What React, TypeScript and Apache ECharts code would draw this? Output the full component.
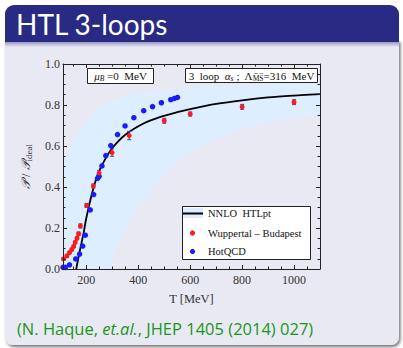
import React, { useEffect, useRef } from "react";
import * as echarts from "echarts";

// Wuppertal–Budapest lattice data (red)
const wbT = [112, 125, 135, 144, 151, 157, 164, 170, 177, 201, 227, 249, 299, 365, 500, 600, 800, 1000];
const wbP = [0.049, 0.064, 0.08, 0.095, 0.11, 0.13, 0.15, 0.172, 0.21, 0.31, 0.405, 0.468, 0.568, 0.651, 0.723, 0.756, 0.791, 0.814];
const wbErr = [0.006, 0.006, 0.006, 0.006, 0.006, 0.007, 0.007, 0.008, 0.01, 0.01, 0.01, 0.012, 0.018, 0.02, 0.012, 0.01, 0.012, 0.012];

// HotQCD lattice data (blue)
const hotT = [110, 119, 135, 159, 174, 186, 196, 215, 228, 243, 249, 260, 275, 294, 320, 349, 383, 421, 455, 489, 525, 539, 551];
const hotP = [0.008, 0.008, 0.02, 0.049, 0.073, 0.112, 0.165, 0.288, 0.363, 0.442, 0.452, 0.503, 0.553, 0.602, 0.656, 0.698, 0.738, 0.772, 0.792, 0.811, 0.826, 0.832, 0.837];

// NNLO HTLpt central curve
const htlT = [161, 170, 181, 190, 200, 222, 245, 270, 300, 350, 420, 480, 550, 600, 700, 800, 900, 1000, 1100];
const htlP = [0, 0.06, 0.126, 0.18, 0.25, 0.37, 0.465, 0.53, 0.59, 0.655, 0.71, 0.74, 0.765, 0.78, 0.805, 0.823, 0.837, 0.846, 0.853];

// HTLpt uncertainty band
const bandHighT = [110, 125, 150, 200, 250, 300, 400, 500, 600, 800, 1000, 1100];
const bandHigh = [0.5, 0.55, 0.63, 0.72, 0.79, 0.825, 0.86, 0.875, 0.885, 0.897, 0.905, 0.908];
const bandLowT = [290, 310, 340, 380, 430, 480, 530, 600, 640, 700, 755, 850, 950, 1100];
const bandLow = [0, 0.08, 0.17, 0.26, 0.35, 0.43, 0.5, 0.565, 0.6, 0.635, 0.663, 0.7, 0.725, 0.745];

// axis ticks
const xMajor = [200, 400, 600, 800, 1000];
const xMinor = [150, 250, 300, 350, 450, 500, 550, 650, 700, 750, 850, 900, 950, 1050, 1100];

const SERIF = "'Liberation Serif', 'DejaVu Serif', serif";
const BG = "#e9e9f3";
const AX = "#222";

export default function App() {
  const ref = useRef<HTMLDivElement>(null);
  useEffect(() => {
    document.body.style.margin = "0";
    const chart = echarts.init(ref.current!, null, { renderer: "svg" });

    const mkX = (pos: "top" | "bottom", vals: number[], len: number, labels: boolean, line: boolean) => ({
      type: "value",
      min: 110,
      max: 1100,
      position: pos,
      z: 10,
      axisLine: { show: line, onZero: false, lineStyle: { color: AX, width: 1 } },
      axisTick: { show: true, inside: true, length: len, customValues: vals, lineStyle: { color: AX, width: 1 } },
      axisLabel: labels
        ? {
            show: true,
            customValues: xMajor,
            fontFamily: SERIF,
            fontSize: 12,
            color: "#333",
            margin: 5,
            formatter: (v: number) => String(v),
          }
        : { show: false },
      splitLine: { show: false },
      ...(labels
        ? {
            name: "T [MeV]",
            nameLocation: "middle",
            nameGap: 23,
            nameTextStyle: { fontFamily: SERIF, fontSize: 12.5, color: "#333" },
          }
        : {}),
    });

    const mkY = (pos: "left" | "right", labels: boolean) => ({
      type: "value",
      min: 0,
      max: 1,
      interval: 0.2,
      position: pos,
      z: 10,
      axisLine: { show: true, onZero: false, lineStyle: { color: AX, width: 1 } },
      axisTick: { show: true, inside: true, length: 4, lineStyle: { color: AX } },
      minorTick: { show: true, splitNumber: 4, length: 2.5, lineStyle: { color: AX } },
      axisLabel: labels
        ? { show: true, fontFamily: SERIF, fontSize: 12, color: "#333", margin: 3, formatter: (v: number) => v.toFixed(1) }
        : { show: false },
      splitLine: { show: false },
      ...(labels
        ? {
            name: "{p|𝒫}{n| / }{p|𝒫}{s|ideal}",
            nameLocation: "middle",
            nameGap: 30,
            nameRotate: 90,
            nameTextStyle: {
              rich: {
                p: { fontFamily: SERIF, fontSize: 12.5, fontStyle: "italic", color: "#333", lineHeight: 14 },
                n: { fontFamily: SERIF, fontSize: 12.5, color: "#333", lineHeight: 14 },
                s: { fontFamily: SERIF, fontSize: 9, color: "#333", lineHeight: 8, verticalAlign: "bottom" },
              },
            },
          }
        : {}),
    });

    const txt = { fontFamily: SERIF, fontSize: 11, fill: "#111" };

    const option: any = {
      animation: false,
      grid: { left: 63, top: 64, width: 257, height: 205, containLabel: false },
      xAxis: [
        mkX("bottom", xMajor, 4, true, true),
        mkX("bottom", xMinor, 2.5, false, false),
        mkX("top", xMajor, 4, false, true),
        mkX("top", xMinor, 2.5, false, false),
      ],
      yAxis: [mkY("left", true), mkY("right", false)],
      graphic: [
        // slide frame
        {
          type: "rect",
          z: -10,
          shape: { x: 5, y: 40, width: 394, height: 305, r: [0, 0, 8, 8] },
          style: { fill: BG, shadowBlur: 3, shadowOffsetX: 1.5, shadowOffsetY: 2, shadowColor: "rgba(0,0,0,0.55)" },
        },
        {
          type: "rect",
          z: -9,
          shape: { x: 5, y: 5, width: 394, height: 37, r: [9, 9, 0, 0] },
          style: { fill: "#282a84" },
        },
        {
          type: "rect",
          z: -9,
          shape: { x: 5, y: 42, width: 394, height: 5 },
          style: {
            fill: new echarts.graphic.LinearGradient(0, 0, 0, 1, [
              { offset: 0, color: "#9697c6" },
              { offset: 1, color: BG },
            ]),
          },
        },
        {
          type: "text",
          z: -8,
          x: 16,
          y: 24,
          style: { text: "HTL 3-loops", fill: "#ffffff", font: "28px Lato, 'Open Sans', sans-serif", verticalAlign: "middle" },
        },
        {
          type: "text",
          z: -8,
          x: 17,
          y: 328,
          style: {
            text: "{n|(N. Haque, }{i|et.al.}{n|, JHEP 1405 (2014) 027)}",
            fill: "#1a961a",
            verticalAlign: "middle",
            rich: {
              n: { fontFamily: "'Open Sans', sans-serif", fontSize: 16.5, fill: "#1a961a" },
              i: { fontFamily: "'Open Sans', sans-serif", fontSize: 16.5, fontStyle: "italic", fill: "#1a961a" },
            },
          },
        },
        // annotation boxes
        {
          type: "rect",
          z: 20,
          shape: { x: 87.5, y: 68.5, width: 66, height: 15 },
          style: { fill: "#fff", stroke: AX, lineWidth: 1 },
        },
        {
          type: "text",
          z: 21,
          x: 120.5,
          y: 76,
          style: {
            text: "{i|μ}{s|B}{n| =0  MeV}",
            align: "center",
            verticalAlign: "middle",
            rich: {
              i: { ...txt, fontStyle: "italic", lineHeight: 13 },
              s: { ...txt, fontSize: 7.5, fontStyle: "italic", lineHeight: 7, verticalAlign: "bottom" },
              n: { ...txt, lineHeight: 13 },
            },
          },
        },
        {
          type: "rect",
          z: 20,
          shape: { x: 185.5, y: 68.5, width: 132, height: 14 },
          style: { fill: "#fff", stroke: AX, lineWidth: 1 },
        },
        {
          type: "text",
          z: 21,
          x: 251.5,
          y: 75.5,
          style: {
            text: "{n|3  loop  }{i|α}{s|s}{n| ;  Λ}{s2|M̅S̅}{n|=316  MeV}",
            align: "center",
            verticalAlign: "middle",
            rich: {
              i: { ...txt, fontStyle: "italic", lineHeight: 13 },
              s: { ...txt, fontSize: 7.5, fontStyle: "italic", lineHeight: 7, verticalAlign: "bottom" },
              s2: { ...txt, fontSize: 7.5, lineHeight: 8, verticalAlign: "bottom" },
              n: { ...txt, lineHeight: 13 },
            },
          },
        },
        // legend
        {
          type: "rect",
          z: 20,
          shape: { x: 182.5, y: 206.5, width: 128, height: 53 },
          style: { fill: "#fff", stroke: AX, lineWidth: 1 },
        },
        { type: "rect", z: 21, shape: { x: 183, y: 208, width: 20, height: 10 }, style: { fill: "#dceeff" } },
        { type: "line", z: 22, shape: { x1: 183, y1: 213.5, x2: 203, y2: 213.5 }, style: { stroke: "#000", lineWidth: 2 } },
        { type: "circle", z: 22, shape: { cx: 192.5, cy: 233, r: 2.6 }, style: { fill: "#ff1a1a" } },
        { type: "circle", z: 22, shape: { cx: 192.5, cy: 251.5, r: 2.6 }, style: { fill: "#1a1aff" } },
        { type: "text", z: 22, x: 208, y: 213.5, style: { text: "NNLO  HTLpt", ...txt, fontSize: 10.5, verticalAlign: "middle" } },
        { type: "text", z: 22, x: 208, y: 233, style: { text: "Wuppertal – Budapest", ...txt, fontSize: 10.5, verticalAlign: "middle" } },
        { type: "text", z: 22, x: 208, y: 251.5, style: { text: "HotQCD", ...txt, fontSize: 10.5, verticalAlign: "middle" } },
      ],
      series: [
        {
          type: "line",
          name: "band-high",
          data: bandHighT.map((t, i) => [t, bandHigh[i]]),
          smooth: 0.35,
          showSymbol: false,
          lineStyle: { width: 0 },
          areaStyle: { color: "#dceeff", opacity: 1 },
          z: 1,
          silent: true,
        },
        {
          type: "line",
          name: "band-low",
          data: bandLowT.map((t, i) => [t, bandLow[i]]),
          smooth: 0.35,
          showSymbol: false,
          lineStyle: { width: 0 },
          areaStyle: { color: BG, opacity: 1 },
          z: 1.5,
          silent: true,
        },
        {
          type: "line",
          name: "NNLO HTLpt",
          data: htlT.map((t, i) => [t, htlP[i]]),
          smooth: 0.3,
          showSymbol: false,
          lineStyle: { color: "#000", width: 1.8 },
          z: 5,
        },
        {
          type: "custom",
          name: "wb-err",
          data: wbT.map((t, i) => [t, wbP[i], wbErr[i]]),
          encode: { x: 0, y: 1 },
          z: 6,
          renderItem: (_p: any, api: any) => {
            const x = api.value(0);
            const y = api.value(1);
            const e = api.value(2);
            const a = api.coord([x, y + e]);
            const b = api.coord([x, y - e]);
            const st = { stroke: "#4a3aa8", lineWidth: 1 };
            return {
              type: "group",
              children: [
                { type: "line", shape: { x1: a[0], y1: a[1], x2: b[0], y2: b[1] }, style: st },
                { type: "line", shape: { x1: a[0] - 2, y1: a[1], x2: a[0] + 2, y2: a[1] }, style: st },
                { type: "line", shape: { x1: b[0] - 2, y1: b[1], x2: b[0] + 2, y2: b[1] }, style: st },
              ],
            };
          },
        },
        {
          type: "scatter",
          name: "HotQCD",
          data: hotT.map((t, i) => [t, hotP[i]]),
          symbolSize: 5.5,
          itemStyle: { color: "#1a1aff", opacity: 1 },
          z: 7,
        },
        {
          type: "scatter",
          name: "Wuppertal – Budapest",
          data: wbT.map((t, i) => [t, wbP[i]]),
          symbolSize: 5,
          itemStyle: { color: "#ff1a1a", opacity: 1 },
          z: 8,
        },
      ],
    };
    chart.setOption(option);
    return () => chart.dispose();
  }, []);
  return <div ref={ref} style={{ width: 403, height: 348 }} />;
}
